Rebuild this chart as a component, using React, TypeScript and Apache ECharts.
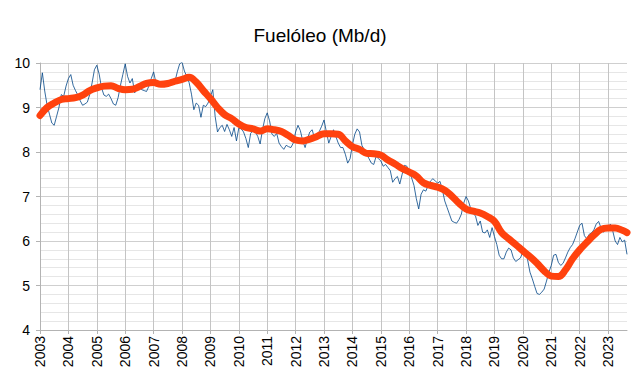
import React, { useEffect, useRef } from "react";
import * as echarts from "echarts";

// Monthly values (Mb/d), Jan 2003 .. Sep 2023, one array per year
const y2003 = [9.40, 9.78, 9.37, 9.05, 8.85, 8.65, 8.60, 8.80, 9.00, 9.29, 9.25, 9.48];
const y2004 = [9.65, 9.74, 9.50, 9.38, 9.28, 9.15, 9.05, 9.08, 9.12, 9.29, 9.55, 9.85];
const y2005 = [9.95, 9.75, 9.44, 9.28, 9.25, 9.30, 9.20, 9.08, 9.05, 9.22, 9.50, 9.74];
const y2006 = [9.98, 9.70, 9.55, 9.65, 9.33, 9.42, 9.45, 9.40, 9.38, 9.36, 9.48, 9.65];
const y2007 = [9.80, 9.55, 9.50, 9.48, 9.47, 9.52, 9.55, 9.53, 9.52, 9.58, 9.80, 9.98];
const y2008 = [10.02, 9.82, 9.70, 9.56, 9.30, 8.95, 9.10, 9.05, 8.78, 9.05, 9.02, 9.10];
const y2009 = [9.25, 9.40, 8.80, 8.45, 8.55, 8.60, 8.46, 8.62, 8.50, 8.35, 8.55, 8.25];
const y2010 = [8.54, 8.52, 8.45, 8.30, 8.10, 8.42, 8.48, 8.45, 8.35, 8.18, 8.50, 8.75];
const y2011 = [8.88, 8.70, 8.40, 8.35, 8.42, 8.20, 8.12, 8.06, 8.15, 8.12, 8.10, 8.20];
const y2012 = [8.45, 8.60, 8.48, 8.25, 8.10, 8.30, 8.45, 8.50, 8.30, 8.35, 8.46, 8.58];
const y2013 = [8.72, 8.45, 8.20, 8.35, 8.50, 8.35, 8.20, 8.10, 8.10, 7.95, 7.75, 7.85];
const y2014 = [8.16, 8.40, 8.52, 8.45, 8.15, 8.05, 7.95, 7.85, 7.75, 7.72, 7.90, 7.85];
const y2015 = [7.80, 7.68, 7.72, 7.65, 7.58, 7.32, 7.40, 7.45, 7.28, 7.50, 7.70, 7.68];
const y2016 = [7.55, 7.42, 7.25, 6.95, 6.72, 7.05, 7.15, 7.12, 7.25, 7.35, 7.40, 7.35];
const y2017 = [7.30, 7.34, 7.15, 6.90, 6.75, 6.60, 6.45, 6.42, 6.40, 6.48, 6.60, 6.85];
const y2018 = [7.00, 6.90, 6.72, 6.62, 6.56, 6.35, 6.45, 6.20, 6.18, 6.25, 6.08, 6.30];
const y2019 = [6.10, 5.92, 5.68, 5.60, 5.60, 5.75, 5.84, 5.80, 5.62, 5.54, 5.58, 5.62];
const y2020 = [5.76, 5.78, 5.58, 5.30, 5.15, 4.98, 4.82, 4.80, 4.85, 4.92, 5.10, 5.30];
const y2021 = [5.45, 5.68, 5.70, 5.52, 5.45, 5.50, 5.62, 5.75, 5.85, 5.92, 6.05, 6.20];
const y2022 = [6.35, 6.40, 6.12, 6.05, 6.15, 6.18, 6.25, 6.38, 6.44, 6.30, 6.20, 6.25];
const y2023 = [6.32, 6.38, 6.22, 6.00, 5.92, 6.08, 5.98, 6.02, 5.70];

// 12-month moving average, read quarterly (Jan, Apr, Jul, Oct) plus the last month
const movingAvg = [
  8.82, 9.00, 9.10, 9.18,
  9.20, 9.22, 9.28, 9.38,
  9.44, 9.48, 9.49, 9.43,
  9.40, 9.41, 9.47, 9.54,
  9.56, 9.52, 9.54, 9.59,
  9.63, 9.68, 9.57, 9.38,
  9.20, 9.00, 8.84, 8.75,
  8.63, 8.55, 8.52, 8.47,
  8.52, 8.50, 8.46, 8.37,
  8.27, 8.25, 8.29, 8.35,
  8.41, 8.41, 8.40, 8.25,
  8.12, 8.06, 7.97, 7.96,
  7.93, 7.82, 7.73, 7.63,
  7.55, 7.46, 7.31, 7.25,
  7.21, 7.14, 7.01, 6.85,
  6.72, 6.67, 6.63, 6.55,
  6.44, 6.19, 6.05, 5.92,
  5.78, 5.65, 5.50, 5.33,
  5.21, 5.20, 5.35, 5.60,
  5.80, 5.97, 6.13, 6.26,
  6.29, 6.29, 6.24, 6.19,
];

const years = [
  2003, 2004, 2005, 2006, 2007, 2008, 2009, 2010, 2011, 2012, 2013,
  2014, 2015, 2016, 2017, 2018, 2019, 2020, 2021, 2022, 2023,
];
const yearly = [
  y2003, y2004, y2005, y2006, y2007, y2008, y2009, y2010, y2011, y2012, y2013,
  y2014, y2015, y2016, y2017, y2018, y2019, y2020, y2021, y2022, y2023,
];

const title = "Fuelóleo (Mb/d)";

export default function App() {
  const ref = useRef<HTMLDivElement>(null);

  useEffect(() => {
    if (!ref.current) return;
    const chart = echarts.init(ref.current, undefined, { renderer: "svg" });

    const months: string[] = [];
    const monthly: number[] = [];
    yearly.forEach((arr, yi) => {
      arr.forEach((v, m) => {
        months.push(`${years[yi]}-${String(m + 1).padStart(2, "0")}`);
        monthly.push(v);
      });
    });
    const last = months.length - 1;
    const maData = movingAvg.map((v, k) => {
      const idx = Math.min(k * 3, last);
      return [months[idx], v];
    });

    const isJan = (i: number) => i % 12 === 0;
    const font = "'Liberation Sans', Arial, sans-serif";

    chart.setOption({
      animation: false,
      backgroundColor: "#ffffff",
      title: {
        text: title,
        left: "center",
        top: 13,
        textStyle: { fontSize: 19, fontWeight: "normal", color: "#000", fontFamily: font },
      },
      grid: { left: 32, right: 5, top: 55, bottom: 44, containLabel: false },
      xAxis: {
        type: "category",
        data: months,
        boundaryGap: false,
        axisLine: { show: true, lineStyle: { color: "#b3b3b3" } },
        axisTick: {
          show: true,
          interval: (i: number) => isJan(i),
          length: 4,
          lineStyle: { color: "#b3b3b3" },
        },
        axisLabel: {
          interval: (i: number) => isJan(i),
          rotate: 90,
          margin: 6,
          fontSize: 14,
          color: "#000",
          fontFamily: font,
          formatter: (v: string) => v.slice(0, 4),
        },
        splitLine: {
          show: true,
          interval: (i: number) => isJan(i),
          lineStyle: { color: "#c4c4c4", width: 1 },
        },
      },
      yAxis: {
        type: "value",
        min: 4,
        max: 10,
        interval: 1,
        axisLine: { show: true, lineStyle: { color: "#b3b3b3" } },
        axisTick: { show: true, length: 4, lineStyle: { color: "#b3b3b3" } },
        axisLabel: { fontSize: 14, color: "#000", margin: 10, fontFamily: font },
        splitLine: { show: true, lineStyle: { color: "#cfcfcf", width: 1 } },
        minorTick: { show: false, splitNumber: 5 },
        minorSplitLine: { show: true, lineStyle: { color: "#e6e6e6", width: 1 } },
      },
      series: [
        {
          name: "mensual",
          type: "line",
          data: monthly,
          symbol: "none",
          lineStyle: { color: "#004586", width: 0.8 },
          z: 2,
        },
        {
          name: "media",
          type: "line",
          data: maData,
          symbol: "none",
          smooth: 0.4,
          lineStyle: { color: "#ff420e", width: 7, cap: "round", join: "round" },
          z: 3,
        },
      ],
    });

    return () => chart.dispose();
  }, []);

  return <div ref={ref} style={{ width: 624, height: 366 }} />;
}
